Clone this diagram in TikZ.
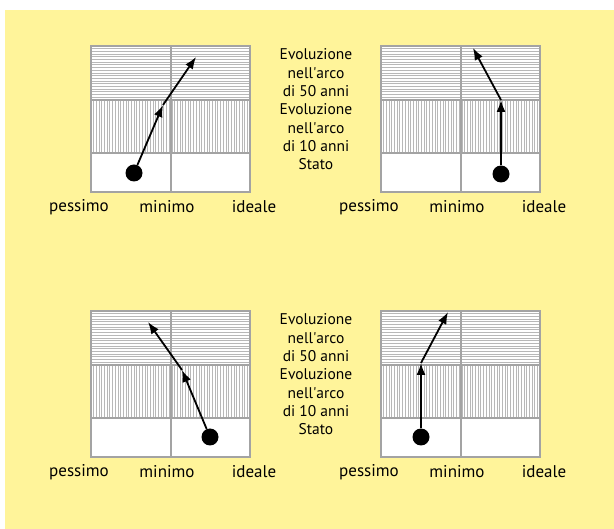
\documentclass[tikz,border=0pt]{standalone}
\usepackage{fontspec}
\setmainfont{PT Sans}
\usetikzlibrary{arrows.meta}
\definecolor{paper}{HTML}{FFF49A}
\definecolor{frame}{HTML}{A3A3A3}
\definecolor{hatch}{HTML}{B8B8B8}
\definecolor{ink}{HTML}{000000}

\begin{document}
\begin{tikzpicture}[x=1pt, y=-1pt, >={Latex[length=12pt,width=9pt]},
  evo/.style={->, line width=1.8pt, ink},
  state/.style={circle, fill=ink, inner sep=0pt, minimum size=17pt},
  axislabel/.style={font=\fontsize{17}{20}\selectfont},
  side/.style={align=center, inner sep=0pt, font=\fontsize{15.5}{18.5}\selectfont}]
  \useasboundingbox (0,0) rectangle (614,529);
  \fill[paper] (5,10) rectangle (614,529);

  % the four panels: 50 years (top row), 10 years (middle row), state (bottom row)
  \foreach \px/\py [count=\i] in {91/46, 381/46, 91/311, 381/311}{
    \begin{scope}[shift={(\px,\py)}]
      \fill[white] (0,0) rectangle (159,146);
      \foreach \y in {2.7,5.4,...,53} \draw[hatch, line width=0.9pt] (0,\y) -- (159,\y);
      \foreach \x in {2.7,5.4,...,158} \draw[hatch, line width=0.9pt] (\x,54) -- (\x,107);
      \draw[frame, line width=2pt] (0,0) rectangle (159,146);
      \draw[frame, line width=2pt] (0,54) -- (159,54) (0,107) -- (159,107) (79.5,0) -- (79.5,146);
      \node[axislabel] (lo\i) at (-12,161) {pessimo};
      \node[axislabel] (mid\i) at (76,161) {minimo};
      \node[axislabel] (hi\i) at (163,161) {ideale};
    \end{scope}
  }

  % row captions between the panels
  \foreach \py [count=\i] in {0, 265}{
    \node[side] (fifty\i) at (316,73+\py) {Evoluzione\\nell\textquotesingle arco\\di 50 anni};
    \node[side] (ten\i) at (316,128+\py) {Evoluzione\\nell\textquotesingle arco\\di 10 anni};
    \node[side] (stato\i) at (316,164+\py) {Stato};
  }

  % evolution paths
  \node[state] (s1) at (134,173) {};
  \coordinate (m1) at (163,105);
  \coordinate (e1) at (196,57);
  \draw[evo] (s1) -- (m1);
  \draw[evo] (m1) -- (e1);

  \node[state] (s2) at (501,174) {};
  \coordinate (m2) at (501,100);
  \coordinate (e2) at (473,48);
  \draw[evo] (s2) -- (m2);
  \draw[evo] (m2) -- (e2);

  \node[state] (s3) at (210,437) {};
  \coordinate (m3) at (182,370);
  \coordinate (e3) at (148,322);
  \draw[evo] (s3) -- (m3);
  \draw[evo] (m3) -- (e3);

  \node[state] (s4) at (421,437) {};
  \coordinate (m4) at (421,363);
  \coordinate (e4) at (448,312);
  \draw[evo] (s4) -- (m4);
  \draw[evo] (m4) -- (e4);
\end{tikzpicture}
\end{document}
